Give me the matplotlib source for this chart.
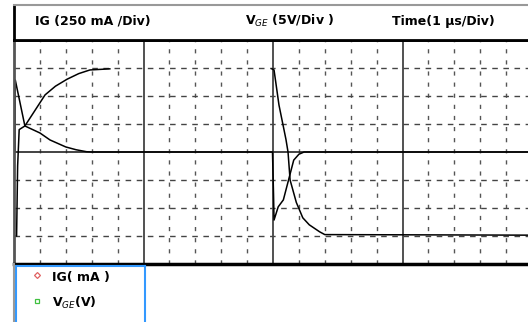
"""Gate current / gate voltage scope trace (IG and V_GE vs time)."""
import numpy as np
import matplotlib.pyplot as plt

W, H = 528, 322

# time in divisions (1 us/Div), signals in divisions
t_ig = [0.0, 0.04, 0.05, 0.42, 1.0, 1.39, 2.0, 2.4, 2.8, 3.0,
        9.98, 10.02, 10.04, 10.2, 10.4, 10.6, 10.8, 11.0, 11.2, 20.0]
ig = [0.0, 0.0, 2.57, 0.93, 0.68, 0.43, 0.18, 0.08, 0.01, 0.0,
      0.0, -1.5, -2.43, -1.96, -1.71, -1.0, -0.29, -0.08, 0.0, 0.0]

t_vge = [0.0, 0.1, 0.14, 0.2, 0.42, 1.2, 1.6, 2.05, 2.5, 2.93, 3.7, np.nan,
         9.96, 10.04, 10.23, 10.5, 10.58, 10.66, 10.9, 11.15, 11.4, 11.8, 12.0, 20.0]
vge = [-3.0, -3.0, -0.5, 0.8, 0.93, 2.04, 2.35, 2.6, 2.8, 2.93, 2.97, np.nan,
       2.97, 2.93, 1.68, 0.45, 0.0, -1.0, -1.8, -2.35, -2.6, -2.85, -2.95, -2.97]

header_texts = ["IG (250 mA /Div)", "V$_{GE}$ (5V/Div )", "Time(1 \u03bcs/Div)"]
header_x = [35, 245, 392]
legend_labels = ["IG( mA )", "V$_{GE}$(V)"]
legend_colors = ["#e06060", "#40c040"]
legend_markers = ["D", "s"]


def fx(px):
    return px / W


def fy(py):
    return 1 - py / H


fig = plt.figure(figsize=(W / 100, H / 100), dpi=100)

# main scope area
x0, x1, y0, y1 = 14, 532, 40, 264
ax = fig.add_axes([fx(x0), fy(y1), fx(x1 - x0), (y1 - y0) / H])
ax.set_xlim(0, 20)
ax.set_ylim(-4, 4)
for i in range(1, 20):
    if i % 5 == 0:
        ax.axvline(i, color="#333333", lw=1.2)
    else:
        ax.axvline(i, color="#555555", lw=1.0, ls=(0, (3, 5)))
for j in range(-3, 4):
    if j == 0:
        ax.axhline(j, color="#222222", lw=1.2)
    else:
        ax.axhline(j, color="#444444", lw=1.0, ls=(0, (4, 4)))
ax.plot(t_ig, ig, color="black", lw=1.1)
ax.plot(t_vge, vge, color="black", lw=1.1)
ax.set_xticks([])
ax.set_yticks([])
ax.spines["left"].set_color("#555555")
ax.spines["left"].set_linewidth(2)
ax.spines["bottom"].set_linewidth(2.5)
ax.spines["top"].set_linewidth(2.0)
ax.spines["right"].set_visible(False)

# header box
hx = fig.add_axes([fx(14), fy(40), fx(532 - 14), 35 / H])
hx.set_xticks([])
hx.set_yticks([])
hx.spines["top"].set_color("#999999")
hx.spines["top"].set_linewidth(1.5)
hx.spines["left"].set_linewidth(2)
hx.spines["bottom"].set_linewidth(2)
hx.spines["right"].set_visible(False)
for txt, px in zip(header_texts, header_x):
    fig.text(fx(px), fy(21), txt, fontsize=9, fontweight="bold",
             va="center", ha="left")

# left grey rule continuing below the scope
fig.add_artist(plt.Line2D([fx(14), fx(14)], [0, fy(264)], color="#999999", lw=1.5))

# legend box
lx = fig.add_axes([fx(16), -0.05, fx(145 - 16), fy(266) + 0.05])
lx.set_xticks([])
lx.set_yticks([])
for s in lx.spines.values():
    s.set_color("#3399ff")
    s.set_linewidth(1.5)
for k, (lab, col, mk) in enumerate(zip(legend_labels, legend_colors, legend_markers)):
    py = 277 + k * 26
    fig.add_artist(plt.Line2D([fx(37)], [fy(py - 2)], marker=mk, ms=3,
                              mfc="none", mec=col, mew=0.9, ls="none"))
    fig.text(fx(52), fy(py), lab, fontsize=9, fontweight="bold",
             va="center", ha="left")

fig.savefig("out.png", dpi=100)
